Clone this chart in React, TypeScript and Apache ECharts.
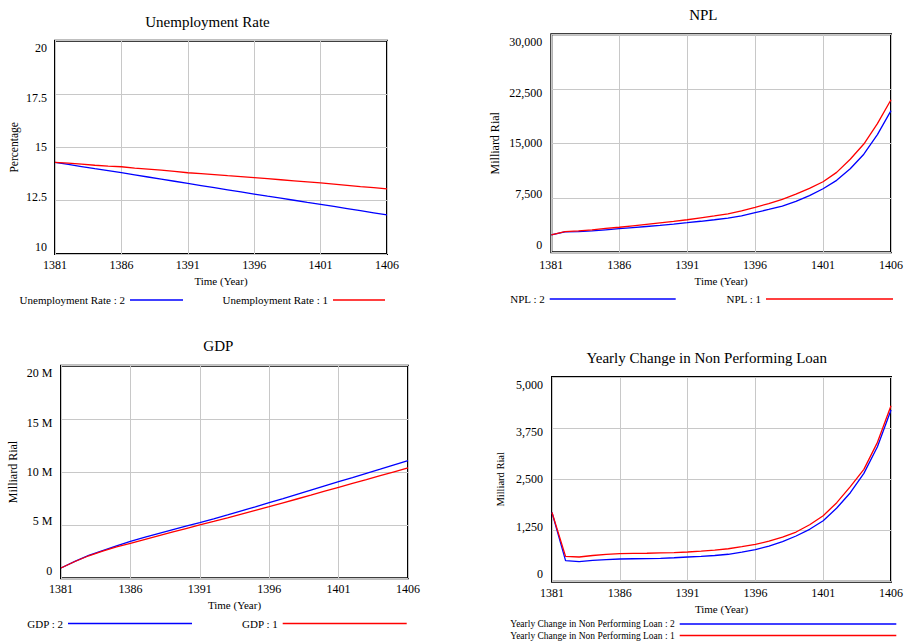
import React, { useEffect, useRef } from "react";
import * as echarts from "echarts";

const years = [1381, 1382, 1383, 1384, 1385, 1386, 1387, 1388, 1389, 1390, 1391, 1392, 1393, 1394, 1395, 1396, 1397, 1398, 1399, 1400, 1401, 1402, 1403, 1404, 1405, 1406];

const unemploymentRate2 = [14.30, 14.20, 14.10, 14.00, 13.91, 13.81, 13.71, 13.61, 13.51, 13.41, 13.31, 13.21, 13.11, 13.01, 12.91, 12.81, 12.71, 12.62, 12.52, 12.42, 12.33, 12.23, 12.13, 12.03, 11.93, 11.83];
const unemploymentRate1 = [14.30, 14.26, 14.21, 14.16, 14.12, 14.09, 14.03, 13.98, 13.93, 13.87, 13.81, 13.77, 13.72, 13.67, 13.63, 13.58, 13.53, 13.48, 13.43, 13.38, 13.33, 13.28, 13.22, 13.16, 13.11, 13.05];

const npl2 = [2400, 2800, 2850, 2950, 3100, 3250, 3400, 3550, 3700, 3880, 4070, 4270, 4480, 4700, 5000, 5450, 5900, 6370, 7000, 7800, 8750, 9900, 11500, 13500, 16200, 19500];
const npl1 = [2400, 2850, 2950, 3100, 3300, 3450, 3650, 3850, 4050, 4250, 4480, 4750, 5000, 5300, 5700, 6190, 6700, 7290, 8000, 8800, 9710, 11000, 12800, 14900, 17700, 21000];

const gdp2 = [970000, 1600000, 2150000, 2600000, 3050000, 3480000, 3840000, 4200000, 4550000, 4900000, 5240000, 5600000, 5970000, 6350000, 6730000, 7120000, 7500000, 7900000, 8300000, 8700000, 9090000, 9480000, 9880000, 10270000, 10670000, 11070000];
const gdp1 = [970000, 1580000, 2120000, 2550000, 2950000, 3290000, 3640000, 3990000, 4340000, 4680000, 5020000, 5350000, 5690000, 6040000, 6390000, 6740000, 7100000, 7460000, 7820000, 8190000, 8560000, 8920000, 9280000, 9650000, 10020000, 10380000];

const yearlyChangeNpl2 = [1690, 513, 489, 520, 540, 554, 560, 565, 570, 585, 603, 620, 640, 670, 720, 782, 870, 980, 1116, 1280, 1490, 1800, 2174, 2647, 3298, 4194];
const yearlyChangeNpl1 = [1690, 619, 603, 640, 665, 684, 690, 695, 705, 712, 725, 745, 770, 805, 855, 912, 990, 1090, 1213, 1390, 1612, 1930, 2321, 2744, 3404, 4300];

const FONT = '"Liberation Serif", "Times New Roman", serif';
const BLUE = "#0000FF";
const RED = "#FF0000";

function measure(text: string, size: number): number {
  const ctx = document.createElement("canvas").getContext("2d");
  if (!ctx) return text.length * size * 0.45;
  ctx.font = `${size}px "Liberation Serif"`;
  return ctx.measureText(text).width;
}

function makeTitle(text: string, cx: number, cy: number, size: number) {
  return {
    text,
    left: cx - measure(text, size) / 2,
    top: cy - size / 2 - 1,
    padding: 0,
    textStyle: { fontFamily: FONT, fontSize: size, fontWeight: "normal", color: "#000" },
  };
}

function makeLegend(name: string, right: number, cy: number, itemWidth: number, size: number) {
  return {
    data: [name],
    right,
    top: cy - size / 2 - 1,
    orient: "horizontal",
    align: "right",
    itemWidth,
    itemHeight: 1.5,
    icon: "rect",
    padding: 0,
    selectedMode: false,
    textStyle: { fontFamily: FONT, fontSize: size, color: "#000" },
  };
}

function makeX(gridIndex: number, margin: number, nameGap: number) {
  return {
    type: "value",
    gridIndex,
    min: 1381,
    max: 1406,
    interval: 5,
    name: "Time (Year)",
    nameLocation: "middle",
    nameGap,
    nameTextStyle: { fontFamily: FONT, fontSize: 11, color: "#000" },
    axisLine: { show: false },
    axisTick: { show: false },
    axisLabel: { margin, fontFamily: FONT, fontSize: 12, color: "#000", formatter: (v: number) => String(v) },
    splitLine: { show: true, lineStyle: { color: "#c8c8c8", width: 1 } },
  };
}

function makeY(gridIndex: number, min: number, max: number, interval: number, name: string, nameGap: number, nameSize: number, margin: number, fmt: (v: number) => string) {
  const count = Math.round((max - min) / interval);
  const rich: Record<string, any> = {};
  for (let k = 0; k <= count; k++) {
    const shift = 7.5 * ((2 * k) / count - 1);
    rich[`s${k}`] = {
      fontFamily: FONT,
      fontSize: 12,
      color: "#000",
      padding: shift >= 0 ? [2 * shift, 0, 0, 0] : [0, 0, -2 * shift, 0],
    };
  }
  return {
    type: "value",
    gridIndex,
    min,
    max,
    interval,
    name,
    nameLocation: "middle",
    nameGap,
    nameTextStyle: { fontFamily: FONT, fontSize: nameSize, color: "#000" },
    axisLine: { show: false },
    axisTick: { show: false },
    axisLabel: {
      margin,
      fontFamily: FONT,
      fontSize: 12,
      color: "#000",
      verticalAlign: "middle",
      formatter: (v: number) => `{s${Math.round((v - min) / interval)}|${fmt(v)}}`,
      rich,
    },
    splitLine: { show: true, lineStyle: { color: "#c8c8c8", width: 1 } },
  };
}

const commas = (v: number) => v.toLocaleString("en-US");

function makeSeries(name: string, values: number[], idx: number, color: string) {
  return {
    type: "line",
    name,
    xAxisIndex: idx,
    yAxisIndex: idx,
    data: years.map((y, i) => [y, values[i]]),
    symbol: "none",
    lineStyle: { color, width: 1.3 },
    itemStyle: { color },
    z: 3,
  };
}

export default function App() {
  const ref = useRef<HTMLDivElement>(null);

  useEffect(() => {
    if (!ref.current) return;
    const chart = echarts.init(ref.current, undefined, { renderer: "svg" });
    const gridBase = { show: true, borderColor: "#000", borderWidth: 2, backgroundColor: "#fff", containLabel: false };
    const option = {
      animation: false,
      backgroundColor: "#fff",
      title: [
        makeTitle("Unemployment Rate", 207.5, 22.5, 15),
        makeTitle("NPL", 703.3, 16, 15),
        makeTitle("GDP", 218.3, 347, 15),
        makeTitle("Yearly Change in Non Performing Loan", 706.7, 359, 15),
      ],
      legend: [
        makeLegend("Unemployment Rate : 2", 723, 301, 53, 11),
        makeLegend("Unemployment Rate : 1", 521, 301, 52, 11),
        makeLegend("NPL : 2", 230.3, 300, 126, 11),
        makeLegend("NPL : 1", 13, 300, 127, 11),
        makeLegend("GDP : 2", 714, 624.5, 124, 11),
        makeLegend("GDP : 1", 499.3, 624.5, 124, 11),
        makeLegend("Yearly Change in Non Performing Loan : 2", 9.7, 624.7, 216.6, 9.5),
        makeLegend("Yearly Change in Non Performing Loan : 1", 9.7, 636.3, 216.6, 9.5),
      ],
      grid: [
        { ...gridBase, left: 55, top: 40.7, width: 332, height: 213.3 },
        { ...gridBase, left: 551.3, top: 34.3, width: 342.4, height: 218 },
        { ...gridBase, left: 61, top: 365.7, width: 347, height: 212.6 },
        { ...gridBase, left: 552, top: 377, width: 341, height: 204.7 },
      ],
      xAxis: [makeX(0, 5, 21), makeX(1, 6.5, 23), makeX(2, 5, 21), makeX(3, 5.6, 21.5)],
      yAxis: [
        makeY(0, 10, 20, 2.5, "Percentage", 35, 11.5, 8, (v) => String(v)),
        makeY(1, 0, 30000, 7500, "Milliard Rial", 50, 12, 9, commas),
        makeY(2, 0, 20000000, 5000000, "Milliard Rial", 42, 12, 8.7, (v) => (v === 0 ? "0" : `${v / 1000000} M`)),
        makeY(3, 0, 5000, 1250, "Milliard Rial", 45.7, 10.5, 9, commas),
      ],
      series: [
        makeSeries("Unemployment Rate : 2", unemploymentRate2, 0, BLUE),
        makeSeries("Unemployment Rate : 1", unemploymentRate1, 0, RED),
        makeSeries("NPL : 2", npl2, 1, BLUE),
        makeSeries("NPL : 1", npl1, 1, RED),
        makeSeries("GDP : 2", gdp2, 2, BLUE),
        makeSeries("GDP : 1", gdp1, 2, RED),
        makeSeries("Yearly Change in Non Performing Loan : 2", yearlyChangeNpl2, 3, BLUE),
        makeSeries("Yearly Change in Non Performing Loan : 1", yearlyChangeNpl1, 3, RED),
      ],
    };
    chart.setOption(option as any);
    return () => chart.dispose();
  }, []);

  return <div ref={ref} style={{ position: "fixed", left: 0, top: 0, width: 906, height: 644 }} />;
}
